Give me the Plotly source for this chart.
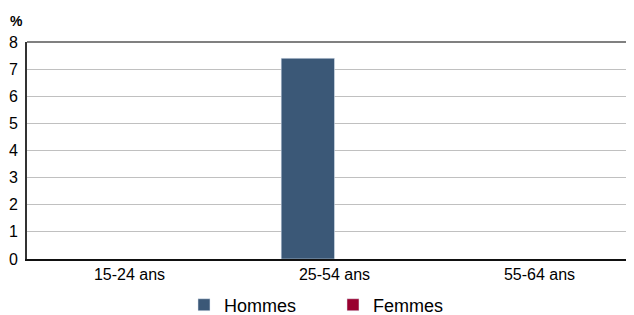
import plotly.graph_objects as go

categories = ["15-24 ans", "25-54 ans", "55-64 ans"]
hommes = [None, 7.4, None]
femmes = [None, None, None]
y_ticks = [0, 1, 2, 3, 4, 5, 6, 7, 8]

fig = go.Figure()
fig.add_trace(go.Bar(name="Hommes", x=categories, y=hommes, marker_color="#3b5877"))
fig.add_trace(go.Bar(name="Femmes", x=categories, y=femmes, marker_color="#99002f"))

font = "Liberation Sans, Arial, sans-serif"
fig.update_layout(
    width=634, height=315,
    margin=dict(l=19, r=0, t=34, b=64, autoexpand=False),
    paper_bgcolor="white", plot_bgcolor="white",
    barmode="group", bargap=0.48, bargroupgap=0,
    font=dict(family=font, size=16, color="#000"),
    showlegend=True,
    legend=dict(orientation="h", x=0.5126, xanchor="center", xref="container",
                y=0.057, yanchor="middle", yref="container",
                font=dict(size=18), itemwidth=30, traceorder="normal", entrywidth=104),
)
fig.add_annotation(text="<b>%</b>", xref="paper", yref="paper", x=0, y=1,
                   xanchor="center", yanchor="bottom", xshift=-11, yshift=11,
                   showarrow=False, font=dict(size=14))
fig.add_shape(type="line", xref="paper", yref="paper", x0=0, x1=1, y0=1, y1=1,
              line=dict(color="#808080", width=2), layer="above")
fig.update_xaxes(range=[-0.5, 2.5], showline=True, linecolor="#111", linewidth=1.5,
                 ticks="", showgrid=False, tickfont=dict(size=16), automargin=False)
fig.update_yaxes(range=[0, 8], tickvals=y_ticks, showgrid=True, gridcolor="#c0c0c0", gridwidth=1,
                 showline=True, linecolor="#333", linewidth=2, ticks="", tickfont=dict(size=16),
                 zeroline=False, mirror=False, automargin=False, ticklabelstandoff=4)
fig.write_html("out.html")
